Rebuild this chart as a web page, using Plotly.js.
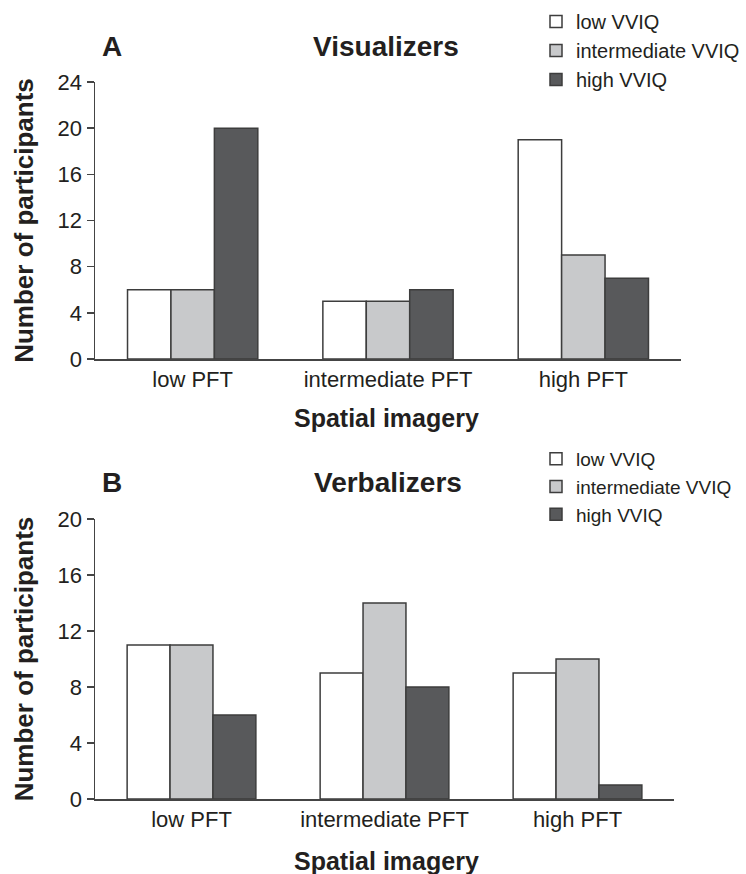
<!DOCTYPE html>
<html>
<head>
<meta charset="utf-8">
<script src="https://cdn.plot.ly/plotly-3.0.1.min.js"></script>
<style>html,body{margin:0;padding:0;background:#fff;}#chart{width:746px;height:874px;}</style>
</head>
<body>
<div id="chart"></div>
<script>
// ---- data ----
const categories = ['low PFT', 'intermediate PFT', 'high PFT'];
const seriesNames = ['low VVIQ', 'intermediate VVIQ', 'high VVIQ'];
// Panel A: Visualizers
const visLowVVIQ = [6, 5, 19];
const visIntVVIQ = [6, 5, 9];
const visHighVVIQ = [20, 6, 7];
// Panel B: Verbalizers
const verLowVVIQ = [11, 9, 9];
const verIntVVIQ = [11, 14, 10];
const verHighVVIQ = [6, 8, 1];
const yTicksA = [0, 4, 8, 12, 16, 20, 24];
const yTicksB = [0, 4, 8, 12, 16, 20];

// ---- style ----
const fills = ['#ffffff', '#c8c9cb', '#58595b'];
const outline = '#3d3d3d';
const FONT = 'Liberation Sans, Arial, Helvetica, sans-serif';
const TXT = '#231f20';
const W = 746, H = 874, L = 95, R = 65;
const PW = W - L - R;
const px = x => (x - L) / PW;
const py = y => 1 - y / H;

function bars(vals, i, xa, ya, leg) {
  return {
    type: 'bar', x: categories, y: vals, name: seriesNames[i],
    xaxis: xa, yaxis: ya, legend: leg,
    marker: {color: fills[i], line: {color: outline, width: 1.5}},
    hoverinfo: 'skip'
  };
}

const data = [
  bars(visLowVVIQ, 0, 'x', 'y', 'legend'),
  bars(visIntVVIQ, 1, 'x', 'y', 'legend'),
  bars(visHighVVIQ, 2, 'x', 'y', 'legend'),
  bars(verLowVVIQ, 0, 'x2', 'y2', 'legend2'),
  bars(verIntVVIQ, 1, 'x2', 'y2', 'legend2'),
  bars(verHighVVIQ, 2, 'x2', 'y2', 'legend2')
];

const tickFont = {family: FONT, size: 22, color: TXT};
const titleFont = {family: FONT, size: 26, color: TXT, weight: 'bold'};

function xAxis(domEnd, anchor) {
  return {
    domain: [0, domEnd], anchor: anchor, type: 'category',
    range: [-0.5, 2.5], showline: true, linecolor: '#444', linewidth: 1.5,
    ticks: '', showgrid: false, zeroline: false, tickfont: tickFont,
    fixedrange: true
  };
}
function yAxis(dom, anchor, maxv, tv) {
  return {
    domain: dom, anchor: anchor, range: [0, maxv], tickvals: tv,
    showline: true, linecolor: '#444', linewidth: 1.5,
    ticks: 'outside', ticklen: 7, tickwidth: 1.5, tickcolor: '#444',
    showgrid: false, zeroline: false, tickfont: tickFont, fixedrange: true,
    title: {text: 'Number of participants', font: titleFont}
  };
}

function label(text, x, y, size) {
  return {text: text, x: px(x), y: py(y), xref: 'paper', yref: 'paper',
          xanchor: 'center', yanchor: 'middle', showarrow: false,
          font: {family: FONT, size: size, color: TXT, weight: 'bold'}};
}

const layout = {
  width: W, height: H,
  margin: {l: L, r: R, t: 0, b: 0},
  paper_bgcolor: '#fff', plot_bgcolor: '#fff',
  barmode: 'group', bargap: 0.333, bargroupgap: 0,
  xaxis: xAxis(1, 'y'),
  yaxis: yAxis([py(359), py(82)], 'x', 24, yTicksA),
  xaxis2: xAxis((674 - L) / PW, 'y2'),
  yaxis2: yAxis([py(799), py(519)], 'x2', 20, yTicksB),
  legend: {x: px(536), xanchor: 'left', y: py(2), yanchor: 'top',
           font: {family: FONT, size: 20, color: TXT},
           bgcolor: 'rgba(0,0,0,0)', traceorder: 'normal'},
  legend2: {x: px(536), xanchor: 'left', y: py(440), yanchor: 'top',
            font: {family: FONT, size: 19, color: TXT},
            bgcolor: 'rgba(0,0,0,0)', traceorder: 'normal'},
  annotations: [
    label('A', 112, 47, 28),
    label('Visualizers', 386, 47, 28),
    label('Spatial imagery', 386, 418, 25),
    label('B', 112, 482, 28),
    label('Verbalizers', 388, 482, 28),
    label('Spatial imagery', 386, 861, 25)
  ]
};

Plotly.newPlot('chart', data, layout, {displayModeBar: false, staticPlot: true});
</script>
</body>
</html>
